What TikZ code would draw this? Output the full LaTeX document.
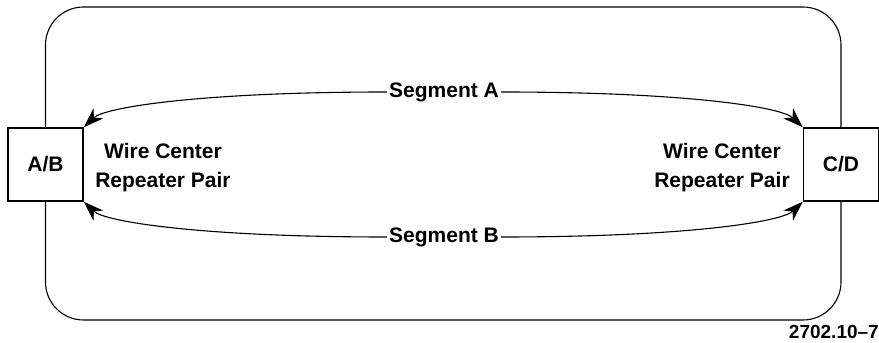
\documentclass[tikz,border=0pt]{standalone}
\usepackage{fontspec}
\setmainfont{Liberation Sans}
\usetikzlibrary{arrows.meta}
\begin{document}
\begin{tikzpicture}[x=1pt, y=1pt, >={Stealth[length=20pt,width=14pt,inset=6pt]},
  font=\fontsize{21}{29}\selectfont\bfseries,
  station/.style={draw, line width=1.6pt, fill=white, minimum width=75pt, minimum height=73pt, inner sep=0pt},
  ring/.style={line width=1.1pt, rounded corners=38pt},
  seglabel/.style={inner xsep=2pt, inner ysep=3pt},
  link/.style={->, line width=1.1pt}]
\useasboundingbox (0,0) rectangle (879,343);
\coordinate (top) at (443,336);
\coordinate (bot) at (443,23);
% ring behind the two repeater boxes
\draw[ring] (45.5,178.5) |- (top) -| (841,178.5);
\draw[ring] (45.5,178.5) |- (bot) -| (841,178.5);
\node[station] (ab) at (45.5,178.5) {A/B};
\node[station] (cd) at (841,178.5) {C/D};
\node[seglabel] (segA) at (444,251) {Segment A};
\node[seglabel] (segB) at (444,106) {Segment B};
\draw[link] (segA.west) .. controls +(-186,0) and +(21,20) .. (ab.north east);
\draw[link] (segA.east) .. controls +(186,0) and +(-21,20) .. (cd.north west);
\draw[link] (segB.west) .. controls +(-186,0) and +(21,-20) .. (ab.south east);
\draw[link] (segB.east) .. controls +(186,0) and +(-21,-20) .. (cd.south west);
\node[align=center] (wcl) at (163,175.5) {Wire Center\\Repeater Pair};
\node[align=center] (wcr) at (722,175.5) {Wire Center\\Repeater Pair};
\node[anchor=east, inner sep=0pt, font=\fontsize{19}{20}\selectfont\bfseries] (fig) at (879,11) {2702.10--7};
\end{tikzpicture}
\end{document}
